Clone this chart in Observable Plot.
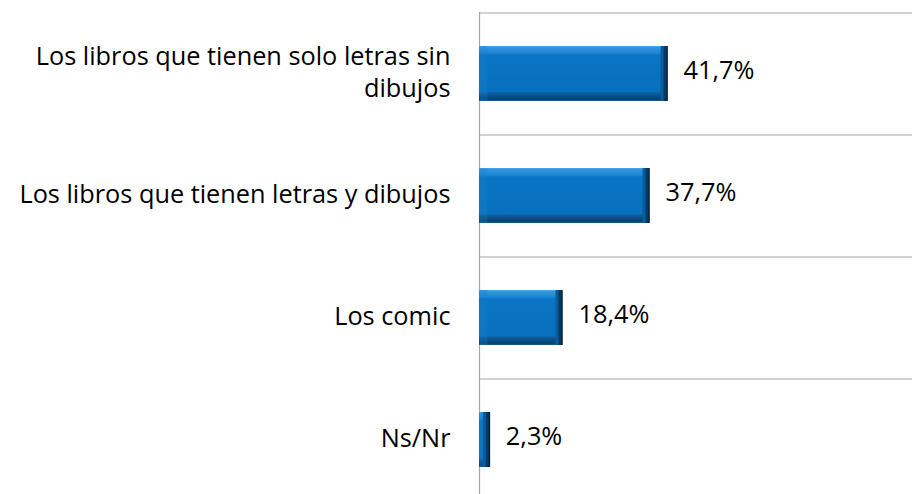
<!DOCTYPE html>
<html>
<head>
<meta charset="utf-8">
<script src="https://cdn.jsdelivr.net/npm/d3@7"></script>
<script src="https://cdn.jsdelivr.net/npm/@observablehq/plot@0.6"></script>
<style>
  html, body { margin: 0; padding: 0; background: #fff; }
  #chart svg { display: block; }
</style>
</head>
<body>
<div id="chart"></div>
<script>
const categories = [
  "Los libros que tienen solo letras sin dibujos",
  "Los libros que tienen letras y dibujos",
  "Los comic",
  "Ns/Nr"
];
const tickLabels = [
  "Los libros que tienen solo letras sin\ndibujos",
  "Los libros que tienen letras y dibujos",
  "Los comic",
  "Ns/Nr"
];
const values = [41.7, 37.7, 18.4, 2.3];

const data = categories.map((c, i) => ({category: c, label: tickLabels[i], value: values[i]}));

const FONT = "'Open Sans', Lato, sans-serif";
const GRID = "#a6a6a6";
const FS = 25.3;

const defs = () => {
  const d = d3.create("svg:defs");
  const g = d.append("linearGradient").attr("id", "barGrad")
    .attr("x1", 0).attr("y1", 0).attr("x2", 0).attr("y2", 1);
  [[0, "#55aae8"], [0.03, "#3493de"], [0.13, "#1e86d3"], [0.16, "#0a75c5"],
   [0.83, "#0870bd"], [0.86, "#0a5e9e"], [0.97, "#073f6d"], [1, "#1d5f96"]].forEach(([o, c]) =>
    g.append("stop").attr("offset", o).attr("stop-color", c));
  return d.node();
};

const chart = Plot.plot({
  width: 912,
  height: 494,
  marginLeft: 479,
  marginRight: 0,
  marginTop: 12,
  marginBottom: 0,
  style: {fontFamily: FONT, background: "#fff"},
  x: {domain: [0, 96], range: [479, 912], axis: null},
  y: {domain: categories, range: [12, 500], paddingInner: 0.55, paddingOuter: 0.275, axis: null},
  marks: [
    defs,
    Plot.ruleY(categories, {y: d => d, dy: -61, stroke: GRID, strokeWidth: 1.2}),
    Plot.ruleX([0], {stroke: GRID, strokeWidth: 1.2}),
    Plot.barX(data, {x: "value", y: "category", fill: "url(#barGrad)"}),
    Plot.tickX(data, {x: 0, y: "category", dx: 4, stroke: "#1a80cc", strokeWidth: 8, strokeOpacity: 0.3}),
    Plot.tickX(data, {x: "value", y: "category", dx: -5, stroke: "#0a5c9a", strokeWidth: 4}),
    Plot.tickX(data, {x: "value", y: "category", dx: -2.5, stroke: "#053a66", strokeWidth: 3}),
    Plot.tickX(data, {x: "value", y: "category", dx: -0.5, stroke: "#021c33", strokeWidth: 1.5}),
    Plot.text(data, {x: 0, y: "category", text: "label", dx: -29, dy: -3, textAnchor: "end",
      fontSize: FS, fill: "#000", lineHeight: 1.25}),
    Plot.text(data, {x: "value", y: "category", text: d => d.value.toFixed(1).replace(".", ",") + "%",
      dx: 16, dy: -3, textAnchor: "start", fontSize: FS, fill: "#000"})
  ]
});
document.getElementById("chart").appendChild(chart);
</script>
</body>
</html>
